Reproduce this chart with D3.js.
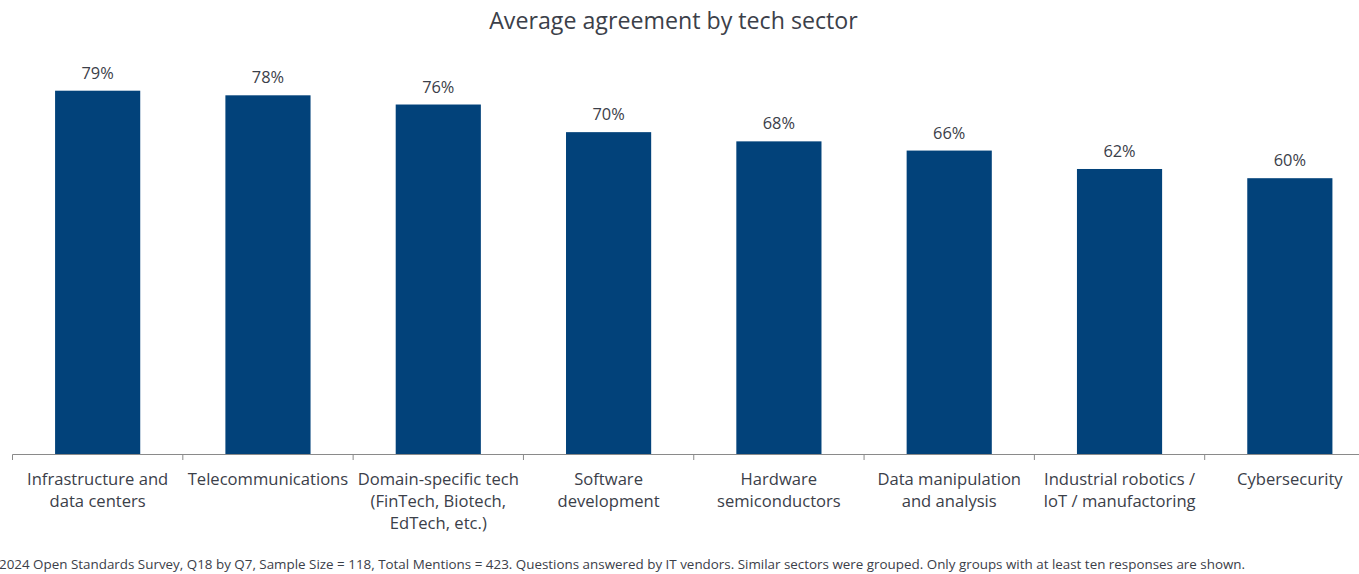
<!DOCTYPE html>
<html>
<head>
<meta charset="utf-8">
<script src="https://cdn.jsdelivr.net/npm/d3@7"></script>
<style>
  html, body { margin: 0; padding: 0; background: #fff; }
  svg { display: block; }
  text { font-family: "Open Sans", "Noto Sans", sans-serif; }
</style>
</head>
<body>
<svg id="chart" width="1359" height="574"></svg>
<script>
// Average agreement (%) per tech sector
const sectors = [
  ["Infrastructure and", "data centers"],
  ["Telecommunications"],
  ["Domain-specific tech", "(FinTech, Biotech,", "EdTech, etc.)"],
  ["Software", "development"],
  ["Hardware", "semiconductors"],
  ["Data manipulation", "and analysis"],
  ["Industrial robotics /", "IoT / manufactoring"],
  ["Cybersecurity"]
];
const agreement = [79, 78, 76, 70, 68, 66, 62, 60];

const titleText = "Average agreement by tech sector";
const footnoteText = "2024 Open Standards Survey, Q18 by Q7, Sample Size = 118, Total Mentions = 423. Questions answered by IT vendors. Similar sectors were grouped. Only groups with at least ten responses are shown.";

const svg = d3.select("#chart");
const textColor = "#3b4049";
const barColor = "#02427a";

const baseline = 454.5;
const x = d3.scaleBand()
  .domain(d3.range(sectors.length))
  .range([12.5, 1375])
  .padding(0);
const y = d3.scaleLinear().domain([0, 100]).range([baseline, baseline - 460.5]);
const barW = x.bandwidth() * 0.5;

// title
svg.append("text")
  .attr("x", 673.5).attr("y", 28.5)
  .attr("text-anchor", "middle")
  .attr("font-size", 23.2)
  .attr("fill", textColor)
  .text(titleText);

// bars
svg.append("g").selectAll("rect")
  .data(agreement)
  .join("rect")
  .attr("x", (d, i) => x(i) + (x.bandwidth() - barW) / 2)
  .attr("width", barW)
  .attr("y", d => y(d))
  .attr("height", d => baseline - y(d))
  .attr("fill", barColor);

// value labels
svg.append("g").selectAll("text")
  .data(agreement)
  .join("text")
  .attr("x", (d, i) => x(i) + x.bandwidth() / 2)
  .attr("y", d => y(d) - 12)
  .attr("text-anchor", "middle")
  .attr("font-size", 16.4)
  .attr("fill", textColor)
  .text(d => d + "%");

// category axis: baseline with ticks between categories
const axis = svg.append("g").attr("transform", `translate(0,${baseline})`);
axis.append("line")
  .attr("x1", x.range()[0]).attr("x2", x.range()[1])
  .attr("stroke", "#8a8a8a").attr("stroke-width", 1);
axis.selectAll("line.tick")
  .data(d3.range(sectors.length + 1))
  .join("line")
  .attr("class", "tick")
  .attr("x1", i => x.range()[0] + i * x.step())
  .attr("x2", i => x.range()[0] + i * x.step())
  .attr("y1", 0).attr("y2", 5.5)
  .attr("stroke", "#8a8a8a").attr("stroke-width", 1);

// category labels
const labels = svg.append("g").selectAll("text")
  .data(sectors)
  .join("text")
  .attr("text-anchor", "middle")
  .attr("font-size", 16.6)
  .attr("fill", textColor);
labels.selectAll("tspan")
  .data((d, i) => d.map(line => ({ line, i })))
  .join("tspan")
  .attr("x", d => x(d.i) + x.bandwidth() / 2)
  .attr("y", (d, j) => 484.5 + j * 22.2)
  .text(d => d.line);

// footnote
svg.append("text")
  .attr("x", -1).attr("y", 569)
  .attr("font-size", 13.4)
  .attr("fill", textColor)
  .text(footnoteText);
</script>
</body>
</html>
